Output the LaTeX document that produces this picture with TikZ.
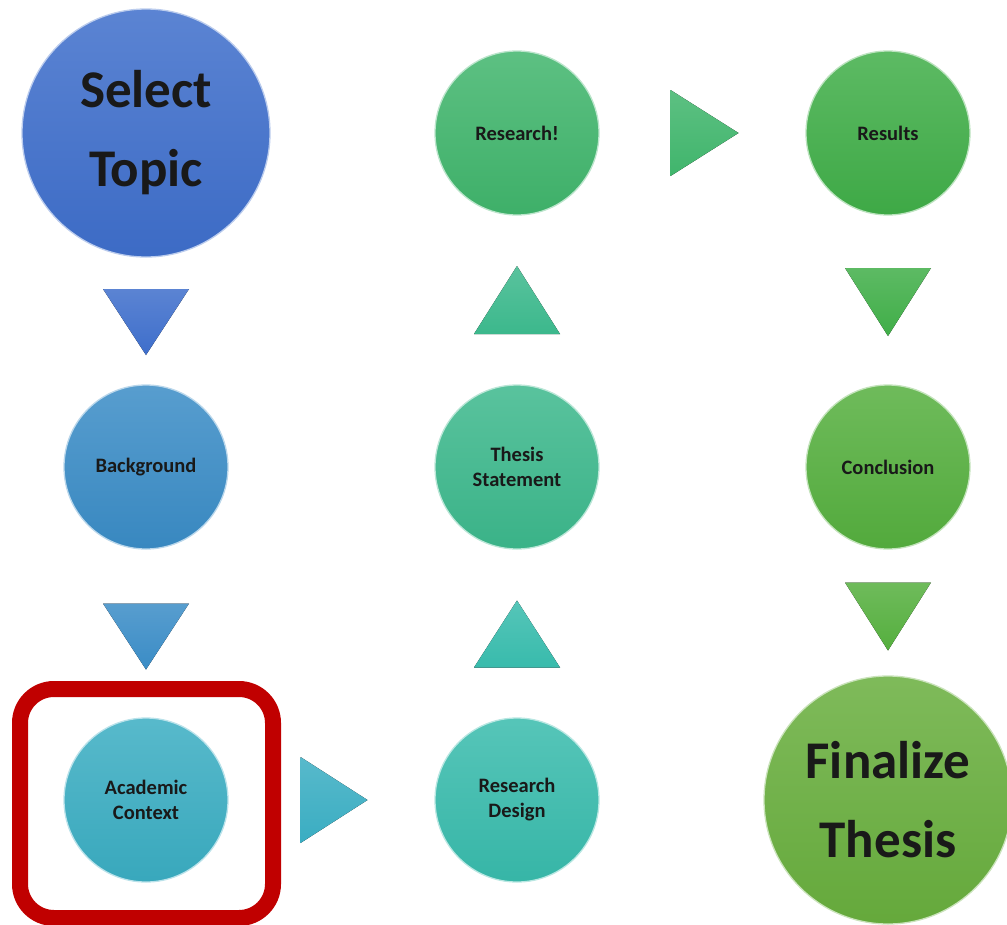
\documentclass[tikz,border=0pt]{standalone}
\usepackage{fontspec}
\setmainfont{Carlito}
\usetikzlibrary{calc}
\definecolor{cA}{HTML}{3E6ECB}
\definecolor{cB}{HTML}{3A8CC6}
\definecolor{cC}{HTML}{3AADC2}
\definecolor{cD}{HTML}{38BBAC}
\definecolor{cE}{HTML}{3CB88C}
\definecolor{cF}{HTML}{40B56C}
\definecolor{cG}{HTML}{40AE48}
\definecolor{cH}{HTML}{55AF3E}
\definecolor{cI}{HTML}{68AE3D}
\definecolor{frame}{HTML}{C00000}
\tikzset{
  bub/.style={circle, minimum size=164pt, inner sep=0pt, align=center,
    font=\bfseries\fontsize{20.5}{25}\selectfont, text=black!90,
    top color=#1!85!white, bottom color=#1!97!black, draw=#1!35!white, line width=1.3pt},
  bigbub/.style={bub=#1, minimum size=248pt, font=\bfseries\fontsize{53}{79}\selectfont},
  tri/.style={top color=#1!85!white, bottom color=#1, draw=none},
}
\begin{document}
\begin{tikzpicture}[x=1pt,y=-1pt]
\useasboundingbox (0,0) rectangle (1007,924);
\clip (0,0) rectangle (1007,924);
% nodes
\node[bigbub=cA] (sel) at (146,133) {Select\\Topic};
\node[bub=cB] (bg) at (146,467) {Background};
\node[bub=cC] (ac) at (146,800) {Academic\\Context};
\node[bub=cD] (rd) at (517,800) {Research\\Design};
\node[bub=cE] (ts) at (517,467) {Thesis\\Statement};
\node[bub=cF] (rs) at (517,133) {Research!};
\node[bub=cG] (re) at (888,133) {Results};
\node[bub=cH] (co) at (888,467) {Conclusion};
\node[bigbub=cI] (fi) at (888,800) {Finalize\\Thesis};
% arrows (triangles)
\coordinate (t1) at ($(sel)!0.5!(bg)+(0,22)$);
\fill[tri=cA] ($(t1)+(-43,-33)$) -- ($(t1)+(43,-33)$) -- ($(t1)+(0,33)$) -- cycle;
\coordinate (t2) at ($(bg)!0.5!(ac)+(0,3)$);
\fill[tri=cB] ($(t2)+(-43,-33)$) -- ($(t2)+(43,-33)$) -- ($(t2)+(0,33)$) -- cycle;
\coordinate (t3) at ($(ac)!0.5!(rd)+(2,0)$);
\fill[tri=cC] ($(t3)+(-33,-43)$) -- ($(t3)+(34,0)$) -- ($(t3)+(-33,43)$) -- cycle;
\coordinate (t4) at ($(rd)!0.5!(ts)$);
\fill[tri=cD] ($(t4)+(-43,34)$) -- ($(t4)+(43,34)$) -- ($(t4)+(0,-33)$) -- cycle;
\coordinate (t5) at ($(ts)!0.5!(rs)$);
\fill[tri=cE] ($(t5)+(-43,34)$) -- ($(t5)+(43,34)$) -- ($(t5)+(0,-34)$) -- cycle;
\coordinate (t6) at ($(rs)!0.5!(re)+(2,0)$);
\fill[tri=cF] ($(t6)+(-34,-43)$) -- ($(t6)+(34,0)$) -- ($(t6)+(-34,43)$) -- cycle;
\coordinate (t7) at ($(re)!0.5!(co)+(0,2)$);
\fill[tri=cG] ($(t7)+(-43,-34)$) -- ($(t7)+(43,-34)$) -- ($(t7)+(0,34)$) -- cycle;
\coordinate (t8) at ($(co)!0.5!(fi)+(0,-17)$);
\fill[tri=cH] ($(t8)+(-43,-34)$) -- ($(t8)+(43,-34)$) -- ($(t8)+(0,34)$) -- cycle;
% highlight frame
\draw[frame, line width=16pt, rounded corners=34pt] (20,689) rectangle (273,918);
\end{tikzpicture}
\end{document}
